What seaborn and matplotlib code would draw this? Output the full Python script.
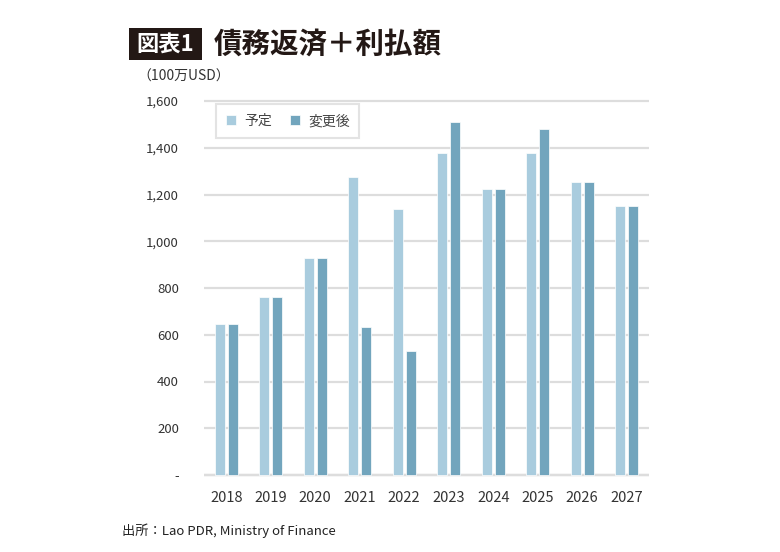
import pandas as pd
import seaborn as sns
import matplotlib.pyplot as plt
from matplotlib.patches import Rectangle

# data (million USD)
years = ['2018', '2019', '2020', '2021', '2022', '2023', '2024', '2025', '2026', '2027']
planned = [645, 760, 930, 1273, 1139, 1377, 1225, 1377, 1253, 1149]
revised = [645, 760, 930, 634, 530, 1511, 1225, 1481, 1253, 1149]
series_names = ['予定', '変更後']
yticks = [0, 200, 400, 600, 800, 1000, 1200, 1400, 1600]
ytick_labels = ['-', '200', '400', '600', '800', '1,000', '1,200', '1,400', '1,600']

df = pd.DataFrame({
    'year': years * 2,
    'value': planned + revised,
    'series': [series_names[0]] * len(years) + [series_names[1]] * len(years),
})

sns.set_style('white')
plt.rcParams['font.family'] = ['Noto Sans CJK JP', 'DejaVu Sans']

W, H = 780, 552
fig = plt.figure(figsize=(W / 100, H / 100), dpi=100)

# axes placed in pixel terms
ymin, ymax = -8, 1620
px_per_unit = (475 - 101) / 1600
ax_top = 475 - ymax * px_per_unit
ax_bot = 475 - ymin * px_per_unit
ax = fig.add_axes([204 / W, 1 - ax_bot / H, (649 - 204) / W, (ax_bot - ax_top) / H])

palette = ['#A9CCDE', '#72A5BD']
sns.barplot(data=df, x='year', y='value', hue='series', palette=palette,
            width=0.6, gap=0.24, edgecolor='white', linewidth=0.5,
            saturation=1, ax=ax, legend=True)

ax.set_xlim(-0.5, 9.5)
ax.set_ylim(ymin, ymax)
ax.set_yticks(yticks)
ax.set_yticklabels(ytick_labels)
ax.yaxis.grid(True, color='#DDDDDD', linewidth=1.6)
ax.set_axisbelow(True)
for s in ax.spines.values():
    s.set_visible(False)
ax.axhline(0, color='#CCCCCC', linewidth=1.6, zorder=0.5)
ax.tick_params(axis='y', length=0, pad=18, labelsize=9.5, colors='#333333')
ax.tick_params(axis='x', length=0, pad=10, labelsize=10.5, colors='#333333')
ax.set_xlabel('')
ax.set_ylabel('')

leg = ax.legend(loc='upper left', bbox_to_anchor=(0.012, 0.997), ncol=2,
                frameon=True, fancybox=False, fontsize=10, handlelength=0.7,
                handleheight=0.7, columnspacing=1.3, handletextpad=0.6,
                borderpad=0.7)
leg.get_frame().set_edgecolor('#DDDDDD')
leg.get_frame().set_linewidth(1.5)
for t in leg.get_texts():
    t.set_color('#444444')

# title block
fig.patches.append(Rectangle((129 / W, 1 - 60 / H), 73 / W, 32 / H,
                             transform=fig.transFigure, facecolor='#231815',
                             edgecolor='none'))
fig.text(165.5 / W, 1 - 44.5 / H, '図表1', color='white', fontsize=16,
         fontweight='bold', ha='center', va='center')
fig.text(214 / W, 1 - 45 / H, '債務返済＋利払額', color='#231815', fontsize=20.5,
         fontweight='bold', ha='left', va='center')
fig.text(137 / W, 1 - 77 / H, '（100万USD）', color='#333333', fontsize=10,
         ha='left', va='center')
fig.text(122 / W, 1 - 531 / H, '出所：Lao PDR, Ministry of Finance', color='#222222',
         fontsize=9.5, ha='left', va='center')

fig.savefig('out.png', dpi=100, facecolor='white')
